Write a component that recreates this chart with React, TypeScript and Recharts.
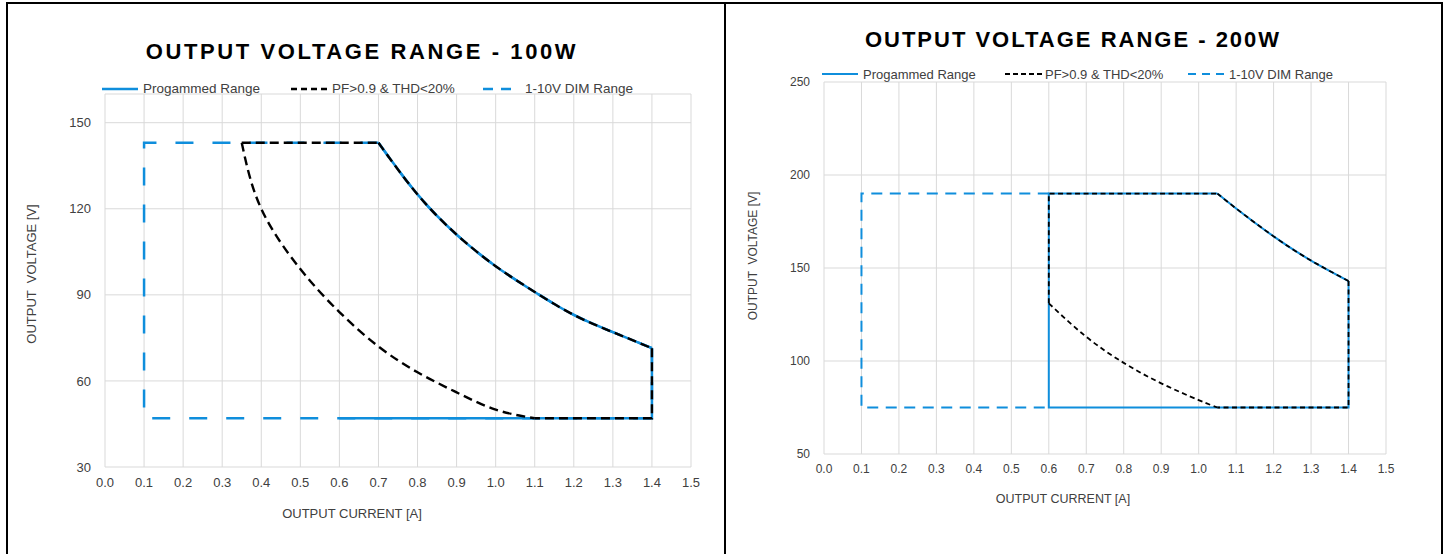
import React from 'react';
import { LineChart, Line, XAxis, YAxis, CartesianGrid } from 'recharts';

const BLUE = '#0f8edc';
const BLACK = '#000000';
const GRID = '#d9d9d9';
const INK = '#404040';
const FONT = '"Liberation Sans", Arial, Helvetica, sans-serif';

// output current ticks [A], shared by both charts
const CURRENT_TICKS = [0, 0.1, 0.2, 0.3, 0.4, 0.5, 0.6, 0.7, 0.8, 0.9, 1.0, 1.1, 1.2, 1.3, 1.4, 1.5];
const VOLT_TICKS_100 = [30, 60, 90, 120, 150];
const VOLT_TICKS_200 = [50, 100, 150, 200, 250];

// 100W  -  [current A, voltage V]
const OUTER_100 = [[0.7, 143], [0.8, 125], [0.9, 111], [1.0, 100], [1.1, 91], [1.2, 83], [1.3, 77], [1.4, 71.4]];
const INNER_100 = [[0.35, 143], [0.4, 120], [0.5, 99], [0.6, 84], [0.7, 72], [0.8, 63], [0.9, 56], [1.0, 50], [1.1, 47]];
const PROG_100 = [[1.4, 71.4], [1.4, 47], [0.6, 47]];
const PF_TOP_100 = [[0.35, 143], [0.7, 143]];
const PF_EDGE_100 = [[1.4, 71.4], [1.4, 47], [1.1, 47]];
const DIM_100 = [[0.7, 143], [0.1, 143], [0.1, 47], [1.4, 47], [1.4, 71.4]];

// 200W
const OUTER_200 = [[1.05, 190], [1.1, 182], [1.2, 167], [1.3, 154], [1.4, 143]];
const INNER_200 = [[0.6, 131], [0.7, 113], [0.8, 99], [0.9, 88], [1.0, 79], [1.05, 75]];
const PROG_200 = [[1.4, 143], [1.4, 75], [0.6, 75], [0.6, 190], [1.05, 190]];
const PF_EDGE_200 = [[0.6, 131], [0.6, 190], [1.05, 190]];
const PF_LOW_200 = [[1.4, 143], [1.4, 75], [1.05, 75]];
const DIM_200 = [[0.6, 190], [0.1, 190], [0.1, 75], [0.6, 75]];

const SERIES_NAMES = ['Progammed Range', 'PF>0.9 & THD<20%', '1-10V DIM Range'];

type Seg = { pts: number[][]; smooth?: boolean };
type Trace = { color: string; width: number; dash?: string; segs: Seg[] };

const toRows = (pts: number[][]) => pts.map(([i, v]) => ({ i, v }));

const traces100: Trace[] = [
  { color: BLUE, width: 2.5, segs: [{ pts: PROG_100 }, { pts: OUTER_100, smooth: true }] },
  { color: BLUE, width: 2.5, dash: '18 19', segs: [{ pts: DIM_100 }, { pts: OUTER_100, smooth: true }] },
  {
    color: BLACK,
    width: 2.4,
    dash: '9 5',
    segs: [{ pts: PF_TOP_100 }, { pts: OUTER_100, smooth: true }, { pts: PF_EDGE_100 }, { pts: INNER_100, smooth: true }],
  },
];

const traces200: Trace[] = [
  { color: BLUE, width: 2, segs: [{ pts: PROG_200 }, { pts: OUTER_200, smooth: true }] },
  { color: BLUE, width: 2, dash: '11 7.5', segs: [{ pts: DIM_200 }] },
  {
    color: BLACK,
    width: 1.8,
    dash: '5 3.5',
    segs: [{ pts: PF_EDGE_200 }, { pts: OUTER_200, smooth: true }, { pts: PF_LOW_200 }, { pts: INNER_200, smooth: true }],
  },
];

function RangeChart({ left, width, margin, yDomain, yTicks, fontSize, xTickMargin, traces }: any) {
  const tick = { fill: INK, fontSize, fontFamily: FONT };
  return (
    <div style={{ position: 'absolute', left, top: 0 }}>
      <LineChart width={width} height={554} margin={margin}>
        <CartesianGrid stroke={GRID} />
        <XAxis
          type="number"
          dataKey="i"
          domain={[0, 1.5]}
          ticks={CURRENT_TICKS}
          interval={0}
          tickFormatter={(v: number) => v.toFixed(1)}
          axisLine={false}
          tickLine={false}
          tickMargin={xTickMargin}
          height={30}
          tick={tick}
          allowDataOverflow
        />
        <YAxis
          type="number"
          domain={yDomain}
          ticks={yTicks}
          interval={0}
          axisLine={false}
          tickLine={false}
          width={60}
          tickMargin={8}
          tick={tick}
          allowDataOverflow
        />
        {traces.flatMap((t: Trace, ti: number) =>
          t.segs.map((s, si) => (
            <Line
              key={`${ti}-${si}`}
              data={toRows(s.pts)}
              dataKey="v"
              type={s.smooth ? 'natural' : 'linear'}
              stroke={t.color}
              strokeWidth={t.width}
              strokeDasharray={t.dash}
              dot={false}
              activeDot={false}
              legendType="none"
              isAnimationActive={false}
            />
          ))
        )}
      </LineChart>
    </div>
  );
}

const Txt = ({ x, y, size, bold, spacing, rotate, color = INK, children }: any) => (
  <div
    style={{
      position: 'absolute',
      left: x,
      top: y,
      transform: `translate(-50%, -50%)${rotate ? ' rotate(-90deg)' : ''}`,
      fontSize: size,
      lineHeight: 1,
      fontWeight: bold ? 700 : 400,
      letterSpacing: spacing,
      whiteSpace: 'pre',
      color,
    }}
  >
    {children}
  </div>
);

function LegendItem({ x, y, w, textX, color, dash, width, size, label }: any) {
  return (
    <>
      <svg style={{ position: 'absolute', left: x, top: y - 3 }} width={w} height={6}>
        <line x1={0} y1={3} x2={w} y2={3} stroke={color} strokeWidth={width} strokeDasharray={dash} />
      </svg>
      <div
        style={{
          position: 'absolute',
          left: textX,
          top: y,
          transform: 'translateY(-50%)',
          fontSize: size,
          lineHeight: 1,
          color: INK,
          whiteSpace: 'pre',
        }}
      >
        {label}
      </div>
    </>
  );
}

export default function App() {
  return (
    <div
      style={{
        position: 'absolute',
        left: 0,
        top: 0,
        width: 1451,
        height: 554,
        overflow: 'hidden',
        background: '#fff',
        fontFamily: FONT,
      }}
    >
      {/* panel frames */}
      <div
        style={{
          position: 'absolute',
          left: 6,
          top: 2,
          width: 1437,
          height: 570,
          boxSizing: 'border-box',
          border: '2px solid #000',
        }}
      />
      <div style={{ position: 'absolute', left: 724, top: 2, width: 2, height: 570, background: '#000' }} />

      <RangeChart
        left={0}
        width={725}
        margin={{ top: 94, right: 34, bottom: 57, left: 45 }}
        yDomain={[30, 160]}
        yTicks={VOLT_TICKS_100}
        fontSize={13}
        xTickMargin={5}
        traces={traces100}
      />
      <RangeChart
        left={725}
        width={726}
        margin={{ top: 82, right: 65, bottom: 70, left: 39 }}
        yDomain={[50, 250]}
        yTicks={VOLT_TICKS_200}
        fontSize={12}
        xTickMargin={4}
        traces={traces200}
      />

      {/* 100W texts */}
      <Txt x={362} y={52} size={22} bold spacing={2.6} color="#000">OUTPUT VOLTAGE RANGE - 100W</Txt>
      <Txt x={352} y={513} size={13}>OUTPUT CURRENT [A]</Txt>
      <Txt x={31} y={274} size={13} rotate>OUTPUT  VOLTAGE [V]</Txt>
      <LegendItem x={102} y={89} w={36} textX={143} color={BLUE} width={2.5} size={13.5} label={SERIES_NAMES[0]} />
      <LegendItem x={291} y={89} w={40} textX={332} color={BLACK} dash="6 4" width={2.5} size={13.5} label={SERIES_NAMES[1]} />
      <LegendItem x={483} y={89} w={28} textX={525} color={BLUE} dash="10 8" width={2.5} size={13.5} label={SERIES_NAMES[2]} />

      {/* 200W texts */}
      <Txt x={1073} y={40} size={22} bold spacing={2} color="#000">OUTPUT VOLTAGE RANGE - 200W</Txt>
      <Txt x={1063} y={499} size={12.5}>OUTPUT CURRENT [A]</Txt>
      <Txt x={753} y={256} size={12} rotate>OUTPUT  VOLTAGE [V]</Txt>
      <LegendItem x={822} y={74} w={36} textX={863} color={BLUE} width={2} size={13} label={SERIES_NAMES[0]} />
      <LegendItem x={1005} y={74} w={38} textX={1045} color={BLACK} dash="5 3" width={2} size={13} label={SERIES_NAMES[1]} />
      <LegendItem x={1188} y={74} w={36} textX={1229} color={BLUE} dash="8 6" width={2} size={13} label={SERIES_NAMES[2]} />
    </div>
  );
}
